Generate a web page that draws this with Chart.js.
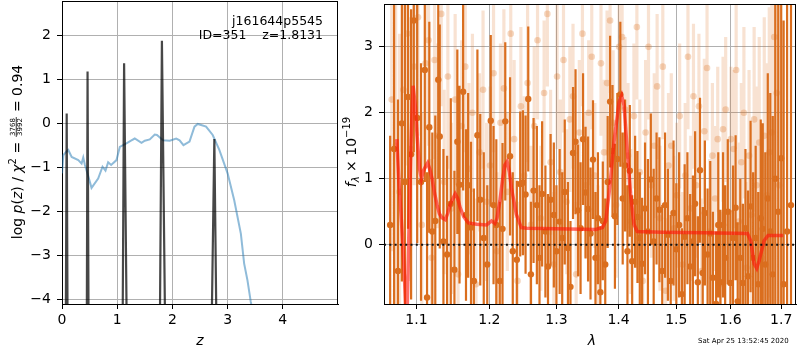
<!DOCTYPE html>
<html>
<head>
<meta charset="utf-8">
<script src="https://cdn.jsdelivr.net/npm/chart.js@4.4.1/dist/chart.umd.min.js"></script>
<style>
body { margin: 0; background: #fff; }
#wrap { position: relative; width: 800px; height: 350px; }
canvas { position: absolute; top: 0; }
</style>
</head>
<body>
<div id="wrap">
  <canvas id="pz" width="340" height="350" style="left:0"></canvas>
  <canvas id="sp" width="460" height="350" style="left:340px"></canvas>
</div>
<script>
// ---- left panel: log p(z) ----
var pzZ   = [0.00, 0.024, 0.07, 0.114, 0.175, 0.295, 0.355, 0.385, 0.415, 0.475, 0.535, 0.655, 0.734, 0.788, 0.836,
             0.89, 0.987, 1.047, 1.167, 1.25, 1.318, 1.44, 1.50, 1.59, 1.68, 1.72, 1.83, 1.95, 2.07, 2.13,
             2.20, 2.27, 2.31, 2.40, 2.46, 2.61, 2.73, 2.85, 3.00, 3.12, 3.24, 3.30, 3.36, 3.42, 3.46];
var pzLog = [-1.14, -0.73, -0.66, -0.61, -0.77, -0.84, -0.92, -0.78, -0.95, -1.20, -1.47, -1.26, -0.99, -1.08, -0.89,
             -0.95, -0.84, -0.54, -0.46, -0.40, -0.35, -0.45, -0.40, -0.37, -0.26, -0.27, -0.39, -0.40, -0.35, -0.39,
             -0.50, -0.45, -0.42, -0.08, -0.02, -0.08, -0.27, -0.61, -1.14, -1.75, -2.51, -3.19, -3.57, -4.06, -4.30];

// sharp peaks of the fit p(z) (null = break between peaks)
var spikeZ   = [0.070, 0.085, 0.100, null, 0.450, 0.463, 0.480, null, 1.100, 1.125, 1.170, null,
                1.775, 1.810, 1.865, null, 2.715, 2.760, 2.795];
var spikeLog = [-4.3, 0.22, -4.3, null, -4.3, 1.17, -4.3, null, -4.3, 1.36, -4.3, null,
                -4.3, 1.87, -4.3, null, -4.3, -0.36, -4.3];

var pzTicksX = [0, 1, 2, 3, 4];
var pzTicksY = [-4, -3, -2, -1, 0, 1, 2];

// ---- right panel: spectrum ----
var darkLam = [1.066, 1.071, 1.076, 1.081, 1.085, 1.089, 1.093, 1.0965, 1.101, 1.106,
               1.111, 1.114, 1.117, 1.121, 1.125, 1.129, 1.131, 1.136, 1.141, 1.146,
               1.151, 1.155, 1.158, 1.163, 1.167, 1.170, 1.174, 1.178, 1.183, 1.187,
               1.192, 1.197, 1.202, 1.206, 1.210, 1.215, 1.219, 1.223, 1.230, 1.234,
               1.240, 1.245, 1.249, 1.253, 1.257, 1.261, 1.265, 1.270, 1.274, 1.278,
               1.283, 1.287, 1.291, 1.296, 1.300, 1.305, 1.309, 1.313, 1.318, 1.322,
               1.326, 1.330, 1.334, 1.338, 1.342, 1.346, 1.350, 1.354, 1.358, 1.362,
               1.366, 1.370, 1.374, 1.378, 1.382, 1.386, 1.390, 1.394, 1.398, 1.403,
               1.407, 1.411, 1.415, 1.419, 1.423, 1.428, 1.432, 1.436, 1.440, 1.445,
               1.450, 1.455, 1.460, 1.465, 1.470, 1.475, 1.480, 1.485, 1.490, 1.495,
               1.500, 1.505, 1.510, 1.515, 1.520, 1.525, 1.530, 1.534, 1.539, 1.543,
               1.548, 1.552, 1.557, 1.562, 1.567, 1.573, 1.577, 1.581, 1.586, 1.590,
               1.595, 1.600, 1.605, 1.610, 1.614, 1.619, 1.624, 1.629, 1.634, 1.639,
               1.644, 1.649, 1.654, 1.659, 1.663, 1.668, 1.673, 1.678, 1.683, 1.688,
               1.694, 1.700, 1.705, 1.712, 1.720];
var darkFlux = [0.30, 1.45, -0.40, 1.84, 0.95, 2.24, 1.37, 3.40, 1.92, 0.95,
                2.65, -0.80, 1.78, 0.20, 0.36, 2.50, 1.64, 0.05, -0.15, 0.62,
                -0.38, 1.56, 0.91, 2.32, 0.45, 0.90, 0.26, -0.55, 1.66, 0.68,
                0.10, -0.30, 1.88, 0.60, 0.30, -0.55, 0.24, 1.87, 1.34, -0.10,
                -0.23, 0.92, 0.94, 0.76, 2.21, -0.45, 0.82, 0.60, -0.20, 0.77,
                0.20, -0.33, 0.68, 0.45, -0.10, 0.35, 0.10, 0.80, -0.05, -0.64,
                1.39, 1.56, 0.52, 0.25, 1.60, 0.79, 0.54, 0.17, 1.29, -0.20,
                0.40, -0.72, 0.36, -0.30, 0.95, 2.17, 1.42, 0.43, 1.30, 2.28,
                0.70, 1.20, -0.10, 1.12, -0.25, 0.65, 0.42, 0.10, -0.29, 0.55,
                0.20, 0.99, 0.05, 0.70, 0.53, -0.40, 0.60, 0.15, -0.55, 0.48,
                -0.07, 0.30, -0.75, 0.12, 0.40, -0.33, 0.05, 0.62, -0.57, 1.13,
                -0.43, 0.48, -0.15, 0.17, -0.50, -0.90, 0.30, -0.57, 0.30, -0.20,
                0.50, -0.58, 0.10, 0.56, -0.86, -0.20, -0.58, 0.25, -0.48, 0.58,
                -0.20, 0.10, -0.60, 0.40, 0.24, -0.30, 0.70, 0.20, -0.45, 1.00,
                0.50, 1.31, -0.60, 0.20, 0.60];
var darkErr = [1.35, 2.60, 2.60, 2.40, 2.80, 2.00, 2.20, 2.00, 1.90, 1.80,
               1.70, 1.90, 1.60, 1.50, 1.60, 1.50, 1.70, 1.40, 1.50, 1.60,
               1.50, 1.40, 1.50, 1.50, 1.30, 1.40, 1.30, 1.40, 1.30, 1.30,
               1.30, 1.20, 1.30, 1.20, 1.30, 1.20, 1.30, 1.20, 1.20, 1.20,
               1.20, 1.10, 1.10, 1.20, 1.10, 1.10, 1.10, 1.20, 1.10, 1.10,
               1.00, 1.10, 1.00, 1.10, 1.00, 1.10, 1.00, 1.10, 1.00, 1.00,
               1.00, 1.10, 1.00, 1.00, 1.00, 1.00, 1.10, 1.00, 0.90, 1.00,
               1.00, 1.00, 0.90, 1.00, 1.00, 1.00, 1.00, 1.10, 1.00, 1.10,
               1.00, 1.00, 1.00, 1.00, 1.00, 1.00, 1.00, 1.00, 1.00, 1.00,
               1.10, 1.00, 1.10, 1.00, 1.10, 1.00, 1.10, 1.00, 1.00, 1.10,
               1.00, 1.10, 1.00, 1.10, 1.00, 1.10, 1.00, 1.10, 1.00, 1.10,
               1.00, 1.10, 1.00, 1.10, 1.00, 1.10, 1.10, 1.10, 1.10, 1.10,
               1.10, 1.10, 1.10, 1.10, 1.20, 1.20, 1.20, 1.20, 1.30, 1.30,
               1.30, 1.40, 1.40, 1.50, 1.60, 1.70, 1.90, 2.10, 2.40, 2.80,
               4.00, 4.00, 4.00, 4.50, 4.50];

var lightLam = [1.068, 1.073, 1.078, 1.083, 1.088, 1.092, 1.097, 1.102, 1.107, 1.112,
                1.116, 1.120, 1.124, 1.128, 1.133, 1.137, 1.142, 1.147, 1.152, 1.156,
                1.161, 1.166, 1.171, 1.176, 1.181, 1.186, 1.191, 1.196, 1.201, 1.206,
                1.211, 1.216, 1.221, 1.226, 1.231, 1.236, 1.241, 1.246, 1.251, 1.256,
                1.261, 1.266, 1.271, 1.276, 1.281, 1.286, 1.291, 1.296, 1.301, 1.306,
                1.311, 1.316, 1.321, 1.326, 1.331, 1.336, 1.341, 1.346, 1.351, 1.356,
                1.361, 1.366, 1.371, 1.376, 1.381, 1.386, 1.391, 1.396, 1.401, 1.406,
                1.411, 1.416, 1.421, 1.426, 1.431, 1.436, 1.441, 1.446, 1.451, 1.456,
                1.461, 1.466, 1.471, 1.476, 1.481, 1.486, 1.491, 1.496, 1.501, 1.506,
                1.511, 1.516, 1.521, 1.526, 1.531, 1.536, 1.541, 1.546, 1.551, 1.556,
                1.561, 1.566, 1.571, 1.576, 1.581, 1.586, 1.591, 1.596, 1.601, 1.606,
                1.611, 1.616, 1.621, 1.626, 1.631, 1.636, 1.641, 1.646, 1.651, 1.656,
                1.661, 1.666, 1.671, 1.676, 1.681, 1.686, 1.691, 1.696];
var lightFlux = [2.20, 1.50, 0.80, 2.35, 3.20, 1.45, 2.70, 3.45, 0.30, 2.75,
                 3.10, -0.20, 2.80, 1.65, 3.50, 0.95, 2.55, 0.55, 2.20, -0.45,
                 1.80, 2.70, 1.15, 2.00, -0.60, 1.40, 2.35, 0.65, 1.20, 2.60,
                 -0.10, 1.85, 2.37, 0.80, 3.20, 1.60, -0.55, 2.10, 1.05, 2.45,
                 0.30, 1.80, 3.10, 0.40, 2.30, 3.50, 1.25, -0.30, 2.55, 1.10,
                 2.80, 0.65, 1.90, 2.25, -0.45, 1.70, 3.20, 0.90, 2.00, 2.85,
                 1.05, -0.20, 2.75, 1.40, 2.45, 3.40, 1.85, 0.60, 3.00, 3.15,
                 2.05, 1.35, 0.35, 1.95, 3.30, 1.10, -0.55, 1.70, 3.00, 0.90,
                 1.50, 2.40, 0.40, 2.70, -0.70, 1.20, 1.50, 0.25, 0.75, 1.95,
                 -0.30, 1.05, 2.85, 0.55, 2.25, 0.90, 2.10, -0.40, 1.72, 2.68,
                 0.20, 1.35, 0.70, 1.60, -0.60, 1.75, 2.05, 0.50, 1.60, 1.45,
                 2.65, 0.35, 1.25, 2.00, -0.35, 1.35, 0.45, 1.90, 0.90, 1.55,
                 -0.20, 1.65, 0.75, 1.40, 1.70, 3.15, 2.30, 0.90];
var lightErr = [2.30, 2.40, 2.40, 2.20, 2.00, 2.00, 1.80, 1.80, 1.70, 1.60,
                1.60, 1.50, 1.50, 1.40, 1.40, 1.40, 1.40, 1.30, 1.30, 1.30,
                1.30, 1.30, 1.30, 1.20, 1.30, 1.20, 1.20, 1.20, 1.20, 1.20,
                1.20, 1.20, 1.20, 1.20, 1.20, 1.20, 1.20, 1.20, 1.20, 1.20,
                1.20, 1.20, 1.20, 1.10, 1.10, 1.10, 1.10, 1.10, 1.10, 1.10,
                1.10, 1.10, 1.10, 1.10, 1.10, 1.10, 1.10, 1.10, 1.10, 1.10,
                1.10, 1.10, 1.10, 1.10, 1.10, 1.10, 1.10, 1.10, 1.10, 1.10,
                1.10, 1.10, 1.10, 1.10, 1.10, 1.10, 1.10, 1.10, 1.10, 1.10,
                1.10, 1.10, 1.10, 1.10, 1.10, 1.10, 1.10, 1.10, 1.10, 1.10,
                1.10, 1.10, 1.10, 1.10, 1.10, 1.10, 1.10, 1.10, 1.10, 1.10,
                1.10, 1.10, 1.10, 1.10, 1.10, 1.10, 1.10, 1.10, 1.10, 1.20,
                1.20, 1.20, 1.20, 1.30, 1.30, 1.30, 1.40, 1.40, 1.50, 1.60,
                1.70, 1.80, 2.00, 2.20, 2.60, 3.20, 4.00, 4.00];

var modelLam = [1.0745, 1.077, 1.0805, 1.0836, 1.0860, 1.0880, 1.0905, 1.0930, 1.0956, 1.0985,
                1.1008, 1.1040, 1.1065, 1.1090, 1.1118, 1.1148, 1.1175, 1.1205, 1.1240, 1.1272,
                1.1305, 1.1339, 1.1385, 1.1420, 1.1452, 1.1520, 1.1555, 1.1589, 1.1640, 1.1703,
                1.1819, 1.1960, 1.2031, 1.2080, 1.2110, 1.2151, 1.2190, 1.2224, 1.2257, 1.2290,
                1.2320, 1.2393, 1.2466, 1.2550, 1.3000, 1.3625, 1.3734, 1.3788, 1.3853, 1.3925,
                1.4009, 1.4052, 1.4093, 1.4148, 1.4203, 1.4260, 1.4316, 1.4747, 1.5500, 1.6330,
                1.6393, 1.6459, 1.6510, 1.6558, 1.6656, 1.6735, 1.7040];
var modelFlux = [1.60, 1.00, 0.35, -0.30, -0.95, -0.95, 0.40, 1.60, 2.41, 2.10,
                 1.66, 1.15, 1.00, 1.12, 1.18, 1.24, 1.15, 1.01, 0.78, 0.61,
                 0.47, 0.41, 0.38, 0.48, 0.61, 0.77, 0.70, 0.56, 0.42, 0.33,
                 0.31, 0.30, 0.36, 0.32, 0.40, 0.66, 0.98, 1.21, 1.26, 1.10,
                 0.86, 0.46, 0.26, 0.25, 0.24, 0.23, 0.26, 0.36, 0.86, 1.56,
                 2.16, 2.26, 2.11, 1.41, 0.77, 0.31, 0.20, 0.19, 0.18, 0.17,
                 0.06, -0.29, -0.36, -0.24, 0.06, 0.14, 0.14];

var lamTicks = [1.1, 1.2, 1.3, 1.4, 1.5, 1.6, 1.7];
var fluxTicks = [0, 1, 2, 3];
var lamRange = [1.0582, 1.7303];
var fluxRange = [-0.90, 3.65];

Chart.defaults.font.family = "'DejaVu Sans', sans-serif";
Chart.defaults.font.size = 14;
Chart.defaults.color = '#000';
Chart.defaults.animation = false;

var N = "14px 'DejaVu Sans'";
var I = "oblique 14px 'DejaVu Sans'";
var S = "10px 'DejaVu Sans'";
var SI = "oblique 10px 'DejaVu Sans'";
var F = "7px 'DejaVu Sans'";

function pts(xs, ys) {
  return xs.map(function (x, i) { return { x: x, y: ys[i] }; });
}
function errbars(xs, ys, es) {
  var out = [];
  xs.forEach(function (x, i) {
    out.push({ x: x, y: ys[i] - es[i] }, { x: x, y: ys[i] + es[i] }, { x: x, y: null });
  });
  return out;
}
function minus(v) { return String(v).replace('-', '\u2212'); }

// rotated rich text centred on cy, baseline at cx
function richRotated(ctx, segs, cx, cy) {
  var w = 0;
  segs.forEach(function (s) {
    if (s.frac) {
      ctx.font = F;
      s.w = Math.max(ctx.measureText(s.frac[0]).width, ctx.measureText(s.frac[1]).width) + 3;
    } else {
      ctx.font = s.f;
      s.w = ctx.measureText(s.t).width;
    }
    w += s.w;
  });
  ctx.save();
  ctx.translate(cx, cy);
  ctx.rotate(-Math.PI / 2);
  ctx.fillStyle = '#000';
  ctx.textBaseline = 'alphabetic';
  ctx.textAlign = 'left';
  var u = -w / 2;
  segs.forEach(function (s) {
    if (s.frac) {
      ctx.font = F;
      ctx.textAlign = 'center';
      ctx.fillText(s.frac[0], u + s.w / 2, -7);
      ctx.fillText(s.frac[1], u + s.w / 2, 0);
      ctx.fillRect(u + 0.5, -6.2, s.w - 1, 0.8);
      ctx.textAlign = 'left';
    } else {
      ctx.font = s.f;
      ctx.fillText(s.t, u, s.dy || 0);
    }
    u += s.w;
  });
  ctx.restore();
}

function axisOpts(extra) {
  var o = {
    grid: { color: '#b0b0b0', lineWidth: 1, tickColor: '#000', tickLength: 5, drawTicks: true },
    border: { color: '#000', width: 1 },
    ticks: { color: '#000', font: { size: 14 }, maxRotation: 0, autoSkip: false }
  };
  for (var k in extra) {
    if (k === 'ticks') { for (var t in extra.ticks) o.ticks[t] = extra.ticks[t]; }
    else o[k] = extra[k];
  }
  return o;
}

// fixed axis box sizes, no extra label padding
function fitX(s) { s.height = 46; s.paddingLeft = 0; s.paddingRight = 0; }
function fitY(w) {
  return function (s) { s.width = w; s.paddingTop = 0; s.paddingBottom = 0; };
}

var frame = {
  id: 'frame',
  afterDraw: function (chart) {
    var a = chart.chartArea, ctx = chart.ctx;
    ctx.save();
    ctx.strokeStyle = '#000';
    ctx.lineWidth = 1;
    ctx.beginPath();
    ctx.moveTo(a.left, Math.round(a.top) + 0.5);
    ctx.lineTo(a.right, Math.round(a.top) + 0.5);
    ctx.moveTo(Math.round(a.right) - 0.5, a.top);
    ctx.lineTo(Math.round(a.right) - 0.5, a.bottom);
    ctx.stroke();
    ctx.restore();
  }
};

// ---------------- left chart ----------------
new Chart(document.getElementById('pz'), {
  type: 'line',
  data: {
    datasets: [
      { data: pts(spikeZ, spikeLog), borderColor: 'rgba(0,0,0,0.72)', borderWidth: 2.2,
        pointRadius: 0, clip: 0, order: 1, spanGaps: false },
      { data: pts(pzZ, pzLog), borderColor: 'rgba(31,119,180,0.5)', borderWidth: 2,
        pointRadius: 0, clip: 0, order: 2 }
    ]
  },
  options: {
    responsive: false,
    devicePixelRatio: 1,
    layout: { padding: { top: 1, right: 2, left: 0, bottom: 0 } },
    plugins: { legend: { display: false }, tooltip: { enabled: false } },
    scales: {
      x: axisOpts({
        type: 'linear', min: 0, max: 5.0,
        afterBuildTicks: function (s) { s.ticks = pzTicksX.map(function (v) { return { value: v }; }); },
        afterFit: fitX,
        ticks: { padding: 3, callback: function (v) { return minus(v); } }
      }),
      y: axisOpts({
        type: 'linear', min: -4.107, max: 2.772,
        afterBuildTicks: function (s) { s.ticks = pzTicksY.map(function (v) { return { value: v }; }); },
        afterFit: fitY(62),
        ticks: { padding: 6, callback: function (v) { return minus(v); } }
      })
    }
  },
  plugins: [frame, {
    id: 'pzText',
    afterDraw: function (chart) {
      var ctx = chart.ctx;
      ctx.save();
      ctx.fillStyle = '#000';
      ctx.textAlign = 'right';
      ctx.textBaseline = 'alphabetic';
      ctx.font = "12.5px 'DejaVu Sans'";
      ctx.fillText('j161644p5545', 323, 25);
      ctx.fillText('ID=351    z=1.8131', 323, 39);
      ctx.textAlign = 'center';
      ctx.font = I;
      ctx.fillText('z', 200, 345);
      ctx.restore();
      richRotated(ctx, [
        { t: 'log ', f: N }, { t: 'p', f: I }, { t: '(', f: N }, { t: 'z', f: I }, { t: ') / ', f: N },
        { t: '\u03c7', f: I }, { t: '2', f: S, dy: -6 }, { t: ' = ', f: N },
        { frac: ['3768', '3992'] }, { t: ' = 0.94', f: N }
      ], 22, 152);
    }
  }]
});

// ---------------- right chart ----------------
var DARK = 'rgb(218,110,30)';
new Chart(document.getElementById('sp'), {
  type: 'line',
  data: {
    datasets: [
      { data: pts(lamRange, [0, 0]), borderColor: '#111', borderWidth: 2, borderDash: [2, 3.3],
        pointRadius: 0, clip: 0, order: 0 },
      { data: pts(modelLam, modelFlux), borderColor: 'rgba(255,20,10,0.62)', borderWidth: 3.5,
        pointRadius: 0, clip: 0, order: 1 },
      { data: pts(darkLam, darkFlux), showLine: false, pointRadius: 3.2, pointBorderWidth: 0,
        pointBackgroundColor: DARK, clip: 0, order: 2 },
      { data: errbars(darkLam, darkFlux, darkErr), borderColor: DARK, borderWidth: 2.2,
        borderCapStyle: 'butt', pointRadius: 0, clip: 0, order: 3, spanGaps: false },
      { data: pts(lightLam, lightFlux), showLine: false, pointRadius: 3.3, pointBorderWidth: 0,
        pointBackgroundColor: 'rgba(218,110,30,0.28)', clip: 0, order: 4 },
      { data: errbars(lightLam, lightFlux, lightErr), borderColor: 'rgba(218,110,30,0.2)', borderWidth: 3.2,
        borderCapStyle: 'butt', pointRadius: 0, clip: 0, order: 5, spanGaps: false }
    ]
  },
  options: {
    responsive: false,
    devicePixelRatio: 1,
    layout: { padding: { top: 1, right: 1, left: 0, bottom: 0 } },
    plugins: { legend: { display: false }, tooltip: { enabled: false } },
    scales: {
      x: axisOpts({
        type: 'logarithmic', min: lamRange[0], max: lamRange[1],
        afterBuildTicks: function (s) { s.ticks = lamTicks.map(function (v) { return { value: v }; }); },
        afterFit: fitX,
        ticks: { padding: 3, callback: function (v) { return Number(v).toFixed(1); } }
      }),
      y: axisOpts({
        type: 'linear', min: fluxRange[0], max: fluxRange[1],
        afterBuildTicks: function (s) { s.ticks = fluxTicks.map(function (v) { return { value: v }; }); },
        afterFit: fitY(44),
        ticks: { padding: 6, callback: function (v) { return minus(v); } }
      })
    }
  },
  plugins: [frame, {
    id: 'spText',
    afterDraw: function (chart) {
      var ctx = chart.ctx;
      ctx.save();
      ctx.fillStyle = '#000';
      ctx.textAlign = 'center';
      ctx.textBaseline = 'alphabetic';
      ctx.font = I;
      ctx.fillText('\u03bb', 252, 345);
      ctx.textAlign = 'left';
      ctx.font = "7px 'DejaVu Sans'";
      ctx.fillText('Sat Apr 25 13:52:45 2020', 358, 343);
      ctx.restore();
      richRotated(ctx, [
        { t: 'f', f: I }, { t: '\u03bb', f: SI, dy: 3 }, { t: ' \u00d7 10', f: N }, { t: '\u221219', f: S, dy: -6 }
      ], 16, 152);
    }
  }]
});
</script>
</body>
</html>
